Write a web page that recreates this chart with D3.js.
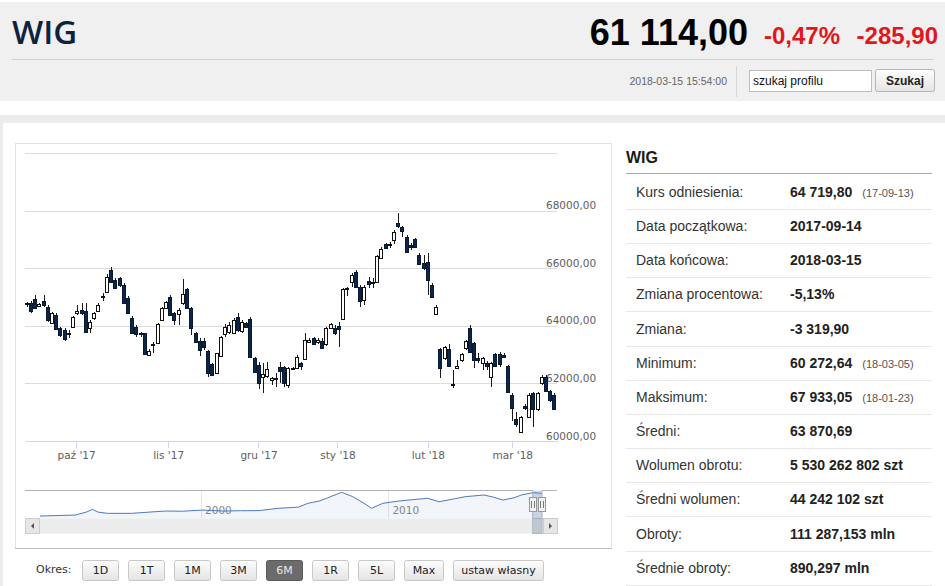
<!DOCTYPE html>
<html lang="pl">
<head>
<meta charset="utf-8">
<title>WIG - notowania</title>
<script src="https://cdn.jsdelivr.net/npm/d3@7"></script>
<style>
    body { margin: 0; background: #fff; }
    svg { display: block; }
    text { font-family: "Liberation Sans", Arial, sans-serif; }
    .hc text { font-family: "DejaVu Sans", Verdana, sans-serif; font-size: 10.5px; fill: #606060; }
</style>
</head>
<body>
<svg id="page" width="945" height="586"></svg>
<script>
/* global d3 : false */

// header
const indexName = "WIG";
const lastValue = "61 114,00";
const changePct = "-0,47%";
const changeAbs = "-285,90";
const quoteTime = "2018-03-15 15:54:00";

// daily candles 2017-09-14 .. 2018-03-15
const opens = [
    64765, 64811, 64927, 64696, 64869, 64672, 64093, 64383, 63919, 63861,
    63722, 63977, 64440, 64556, 64533, 63919, 64267, 64533, 65020, 65194,
    65948, 65600, 65658, 65426, 64962, 64267, 63977, 63768, 63745, 62991,
    63327, 63420, 64209, 64614, 65020, 64440, 64417, 64788, 65275, 64614,
    63768, 63478, 63478, 63130, 62678, 62354, 62956, 63722, 63803, 63768,
    64325, 63838, 64116, 64232, 62875, 62643, 62214, 62261, 62122, 62203,
    62562, 62562, 61948, 62504, 62527, 62701, 62841, 63455, 63571, 63455,
    63478, 63362, 63919, 63942, 64000, 64232, 65275, 65519, 65890, 65368,
    64904, 65565, 65519, 65519, 66377, 66852, 66817, 66991, 67571, 67432,
    67107, 66817, 67014, 66469, 66180, 66214, 65426, 64406, 63188, 62875,
    63188, 61971, 62551, 62817, 63223, 63919, 63420, 62875, 62725, 62725,
    62238, 63014, 63014, 62991, 62609, 61600, 60754, 60325, 61217, 60823,
    61658, 61101, 62029, 62238, 61751, 61600
];
const highs = [
    64846, 64869, 65078, 64811, 65067, 64730, 64498, 64440, 63977, 63919,
    63861, 64348, 64730, 64811, 64811, 64209, 64498, 64788, 65136, 65797,
    66064, 65658, 65716, 65484, 65043, 64348, 64035, 63803, 63768, 63188,
    63455, 64093, 64672, 64881, 65078, 64498, 64614, 65623, 65310, 64672,
    63803, 63571, 63571, 63165, 62725, 63072, 63652, 64069, 64151, 64267,
    64440, 64209, 64151, 64325, 62933, 62759, 62725, 62759, 62238, 62354,
    62759, 62609, 62585, 62585, 62991, 62759, 63745, 63571, 63629, 63571,
    63571, 63977, 64093, 64035, 64151, 65310, 65368, 65832, 65948, 65426,
    65426, 65716, 65658, 66469, 66736, 66898, 66910, 67339, 67933, 67478,
    67165, 66875, 67049, 66527, 66469, 66527, 65484, 64730, 63223, 63304,
    63374, 62470, 62817, 63049, 63513, 64035, 63455, 63049, 62933, 62794,
    62759, 63049, 63096, 63049, 62632, 61658, 61020, 60881, 61275, 61658,
    61716, 61704, 62284, 62296, 61774, 61658
];
const lows = [
    64672, 64464, 64614, 64649, 64672, 64151, 64058, 63861, 63629, 63490,
    63571, 63919, 64383, 64383, 63768, 63745, 64209, 64498, 64881, 65159,
    65507, 65275, 65368, 64788, 64440, 63722, 63629, 63606, 62991, 62956,
    63049, 63397, 64185, 64580, 64348, 64035, 64035, 64730, 64580, 63687,
    63420, 62956, 63165, 62238, 62261, 62319, 62933, 63629, 63722, 63722,
    63803, 63745, 63919, 62875, 62354, 61797, 61658, 62180, 61948, 61890,
    62029, 61890, 61832, 62470, 62493, 62470, 62817, 63397, 63339, 63374,
    63200, 63304, 63884, 63687, 63281, 64209, 65055, 65368, 65310, 64672,
    64730, 65310, 65310, 65484, 66342, 66667, 66701, 66840, 67397, 67107,
    66527, 66643, 66701, 66122, 65948, 65078, 64962, 64383, 62180, 62817,
    62585, 61832, 62516, 62759, 63165, 63072, 62527, 62725, 62470, 62470,
    61867, 62585, 62585, 62875, 61681, 60707, 60499, 60273, 61078, 60788,
    60499, 61055, 61948, 61716, 61368, 61101
];
const closes = [
    64788, 64533, 64638, 64765, 64730, 64209, 64440, 63884, 63687, 63536,
    63745, 64301, 64533, 64440, 63803, 64151, 64440, 64730, 65043, 65716,
    65542, 65310, 65426, 64811, 64464, 63745, 63722, 63733, 63014, 63142,
    63374, 64058, 64638, 64846, 64383, 64209, 64556, 65113, 64614, 63919,
    63455, 63165, 63281, 62354, 62296, 63049, 63629, 63977, 64035, 64209,
    63861, 64151, 63977, 62933, 62412, 62006, 62330, 62493, 62180, 62156,
    62446, 62006, 62527, 62551, 62910, 62609, 63513, 63513, 63374, 63513,
    63246, 63919, 64069, 63745, 63884, 65275, 65310, 65774, 65368, 64869,
    65368, 65449, 65542, 66435, 66678, 66701, 66852, 67281, 67490, 67316,
    66562, 66759, 66759, 66145, 66006, 65600, 64997, 64672, 62527, 63258,
    62609, 61994, 62620, 63014, 63478, 63107, 62817, 62817, 62875, 62609,
    62725, 62609, 62678, 62933, 61716, 61136, 60591, 60846, 61136, 61600,
    61101, 61681, 62238, 61751, 61426, 61114
];

// axis ticks; month ticks are given in candle slots
const monthLabels = ["paź '17", "lis '17", "gru '17", "sty '18", "lut '18", "mar '18"];
const monthTickAt = [11.6, 33.4, 54.8, 73.5, 94.9, 114.9];
const priceTicks = [62000, 64000, 66000, 68000, 70000];
const priceLabels = [60000, 62000, 64000, 66000, 68000];

// navigator: whole history of the index
const navYears = [
    1991.4, 1993.3, 1993.9, 1994.2, 1994.5, 1995.0, 1996.3, 1997.5, 1998.1, 1999.0,
    2000.1, 2001.2, 2002.1, 2003.1, 2004.1, 2005.2, 2005.7, 2006.3, 2006.7, 2007.5,
    2008.1, 2008.7, 2009.1, 2009.7, 2010.4, 2011.1, 2012.1, 2012.7, 2013.4, 2014.1,
    2015.1, 2015.6, 2016.1, 2016.7, 2017.1, 2017.7, 2018.2
];
const navValues = [
    1000, 3800, 12500, 19800, 12000, 8600, 8600, 13000, 15000, 14500,
    17800, 15000, 15900, 16200, 22600, 26000, 36600, 43000, 50700, 67500,
    55200, 36600, 22600, 36600, 42000, 45900, 50700, 41100, 48000, 55200,
    59900, 54000, 45900, 52000, 59900, 66400, 64700
];
const navYearTicks = [2000, 2010];
const navWindow = [2017.70, 2018.20];

// period buttons
const periods = ["1D", "1T", "1M", "3M", "6M", "1R", "5L", "Max", "ustaw własny"];
const activePeriod = "6M";

// statistics table
const statLabels = [
    "Kurs odniesienia:", "Data początkowa:", "Data końcowa:", "Zmiana procentowa:",
    "Zmiana:", "Minimum:", "Maksimum:", "Średni:", "Wolumen obrotu:",
    "Średni wolumen:", "Obroty:", "Średnie obroty:"
];
const statValues = [
    "64 719,80", "2017-09-14", "2018-03-15", "-5,13%", "-3 319,90", "60 272,64",
    "67 933,05", "63 870,69", "5 530 262 802 szt", "44 242 102 szt",
    "111 287,153 mln", "890,297 mln"
];
const statNotes = ["(17-09-13)", "", "", "", "", "(18-03-05)", "(18-01-23)", "", "", "", "", ""];

const svg = d3.select("#page");
const red = "#e2161d";

const defs = svg.append("defs");
const grad = defs.append("linearGradient").attr("id", "btn").attr("x1", 0).attr("y1", 0).attr("x2", 0).attr("y2", 1);
grad.append("stop").attr("offset", "0%").attr("stop-color", "#fdfdfd");
grad.append("stop").attr("offset", "100%").attr("stop-color", "#e4e4e4");

// page frame
svg.append("rect").attr("x", 0).attr("y", 2).attr("width", 945).attr("height", 99).attr("fill", "#f0f0f0");
svg.append("rect").attr("x", 0).attr("y", 115).attr("width", 945).attr("height", 471).attr("fill", "#ececec");
svg.append("rect").attr("x", 3).attr("y", 123).attr("width", 942).attr("height", 463).attr("fill", "#fff");

// header
const head = svg.append("g");
head.append("text")
    .attr("x", 12)
    .attr("y", 44)
    .style("font-family", '"Open Sans", sans-serif')
    .style("font-weight", 600)
    .style("font-size", "33px")
    .attr("fill", "#0d2240")
    .text(indexName);
head.append("text")
    .attr("x", 748)
    .attr("y", 45)
    .attr("text-anchor", "end")
    .style("font-weight", "bold")
    .style("font-size", "36px")
    .attr("fill", "#000")
    .text(lastValue);
head.append("text")
    .attr("x", 764)
    .attr("y", 44)
    .style("font-weight", "bold")
    .style("font-size", "24px")
    .attr("fill", red)
    .text(changePct);
head.append("text")
    .attr("x", 938)
    .attr("y", 44)
    .attr("text-anchor", "end")
    .style("font-weight", "bold")
    .style("font-size", "24px")
    .attr("fill", red)
    .text(changeAbs);
head.append("line").attr("x1", 12).attr("x2", 934).attr("y1", 59.5).attr("y2", 59.5).attr("stroke", "#d0d0d0");
head.append("text")
    .attr("x", 727)
    .attr("y", 84.5)
    .attr("text-anchor", "end")
    .style("font-size", "10.5px")
    .attr("fill", "#666")
    .text(quoteTime);
head.append("line").attr("x1", 736.5).attr("x2", 736.5).attr("y1", 66).attr("y2", 97).attr("stroke", "#d6d6d6");
head.append("rect")
    .attr("x", 749.5)
    .attr("y", 70.5)
    .attr("width", 122)
    .attr("height", 21)
    .attr("fill", "#fff")
    .attr("stroke", "#bdbdbd");
head.append("text")
    .attr("x", 753)
    .attr("y", 85)
    .style("font-size", "12px")
    .attr("fill", "#111")
    .text("szukaj profilu");
head.append("rect")
    .attr("x", 875.5)
    .attr("y", 69.5)
    .attr("width", 59)
    .attr("height", 22)
    .attr("rx", 2)
    .attr("fill", "url(#btn)")
    .attr("stroke", "#b5b5b5");
head.append("text")
    .attr("x", 905)
    .attr("y", 85)
    .attr("text-anchor", "middle")
    .style("font-weight", "bold")
    .style("font-size", "12px")
    .attr("fill", "#222")
    .text("Szukaj");

// chart box
svg.append("rect")
    .attr("x", 15.5)
    .attr("y", 143.5)
    .attr("width", 596)
    .attr("height", 405)
    .attr("fill", "#fff")
    .attr("stroke", "#e2e2e2");
svg.append("line").attr("x1", 15).attr("x2", 612).attr("y1", 548.5).attr("y2", 548.5).attr("stroke", "#bdbdbd");

// main candlestick chart
const plotLeft = 25, plotRight = 557, plotTop = 153.3, plotBottom = 441;
const n = closes.length;
const x = d3.scaleLinear().domain([-0.5, n - 0.5]).range([plotLeft, plotRight]);
const y = d3.scaleLinear().domain([60000, 70000]).range([plotBottom, plotTop]);
const priceFmt = v => v.toFixed(2).replace(".", ",");

const chart = svg.append("g").attr("class", "hc");

const grid = chart.append("g")
    .attr("transform", `translate(${plotRight},0)`)
    .call(d3.axisLeft(y).tickValues(priceTicks).tickSize(plotRight - plotLeft).tickFormat(""));
grid.select(".domain").remove();
grid.selectAll("line").attr("stroke", "#dcdcdc").attr("shape-rendering", "crispEdges");

const yLab = chart.append("g")
    .attr("transform", "translate(546,0)")
    .call(d3.axisRight(y).tickValues(priceLabels).tickSize(0).tickPadding(0).tickFormat(priceFmt));
yLab.select(".domain").remove();
yLab.selectAll("text").attr("dy", "-0.19em");

const xAx = chart.append("g")
    .attr("transform", `translate(0,${plotBottom})`)
    .call(d3.axisBottom(x).tickValues(monthTickAt).tickFormat((d, i) => monthLabels[i])
        .tickSize(7).tickSizeOuter(0).tickPadding(4));
xAx.select(".domain").attr("stroke", "#ccd6eb").attr("shape-rendering", "crispEdges");
xAx.selectAll("line").attr("stroke", "#ccd6eb").attr("shape-rendering", "crispEdges");

const bars = closes.map((c, i) => ({ i, o: opens[i], h: highs[i], l: lows[i], c }));
const col = d => Math.floor(x(d.i));
const candle = chart.append("g").selectAll("g").data(bars).join("g");
candle.append("line")
    .attr("x1", d => col(d) + 0.5)
    .attr("x2", d => col(d) + 0.5)
    .attr("y1", d => Math.round(y(d.h)))
    .attr("y2", d => Math.round(y(d.l)))
    .attr("stroke", "#1a1a1a");
candle.append("rect")
    .attr("x", d => col(d) - 1.5)
    .attr("width", 3)
    .attr("y", d => Math.round(y(Math.max(d.o, d.c))) + 0.5)
    .attr("height", d => Math.max(1, Math.round(y(Math.min(d.o, d.c))) - Math.round(y(Math.max(d.o, d.c)))))
    .attr("fill", d => (d.c < d.o ? "#0c2646" : "#fff"))
    .attr("stroke", d => (d.c < d.o ? "#081a33" : "#111"));

// navigator
const navTop = 490.5, navBottom = 518.5, sbBottom = 533.5;
const navX = d3.scaleLinear().domain([1990.6, 2019]).range([plotLeft, plotRight]);
const navY = d3.scaleLinear().domain([0, 70000]).range([516.4, 491.4]);
const navPts = navYears.map((yr, i) => ({ yr, v: navValues[i] }));
const nav = svg.append("g").attr("class", "hc");

nav.selectAll("line.grid")
    .data(navYearTicks)
    .join("line")
    .attr("class", "grid")
    .attr("x1", d => Math.round(navX(d)) + 0.5)
    .attr("x2", d => Math.round(navX(d)) + 0.5)
    .attr("y1", navTop)
    .attr("y2", navBottom)
    .attr("stroke", "#e6e6e6");
nav.selectAll("text.yr")
    .data(navYearTicks)
    .join("text")
    .attr("class", "yr")
    .attr("x", d => navX(d) + 4)
    .attr("y", 514)
    .style("fill", "#888")
    .text(d => d);
nav.append("path")
    .datum(navPts)
    .attr("d", d3.area().x(d => navX(d.yr)).y0(navBottom).y1(d => navY(d.v)))
    .attr("fill", "rgba(69,114,167,0.07)");
nav.append("path")
    .datum(navPts)
    .attr("d", d3.line().x(d => navX(d.yr)).y(d => navY(d.v)))
    .attr("fill", "none")
    .attr("stroke", "#5079bd")
    .attr("stroke-width", 1);

// scrollbar
const winL = navX(navWindow[0]), winR = navX(navWindow[1]);
nav.append("rect")
    .attr("x", plotLeft)
    .attr("y", navBottom)
    .attr("width", plotRight - plotLeft)
    .attr("height", sbBottom - navBottom)
    .attr("fill", "#ececec");
nav.append("rect")
    .attr("x", winL)
    .attr("y", navBottom)
    .attr("width", winR - winL)
    .attr("height", sbBottom - navBottom)
    .attr("fill", "#bfc8d1")
    .attr("stroke", "#b0b8c2");
[plotLeft, plotRight - 14].forEach((bx, k) => {
    nav.append("rect")
        .attr("x", bx + 0.5)
        .attr("y", navBottom)
        .attr("width", 14)
        .attr("height", sbBottom - navBottom)
        .attr("fill", "#e6e6e6")
        .attr("stroke", "#cccccc");
    const cx = bx + 7.5, cy = (navBottom + sbBottom) / 2;
    nav.append("path")
        .attr("d", k === 0
            ? `M${cx + 1.5},${cy - 3}L${cx - 1.5},${cy}L${cx + 1.5},${cy + 3}Z`
            : `M${cx - 1.5},${cy - 3}L${cx + 1.5},${cy}L${cx - 1.5},${cy + 3}Z`)
        .attr("fill", "#555");
});

// selected window and handles
nav.append("rect")
    .attr("x", winL)
    .attr("y", navTop)
    .attr("width", winR - winL)
    .attr("height", navBottom - navTop)
    .attr("fill", "rgba(102,133,194,0.3)");
nav.append("path")
    .attr("d", `M${plotLeft},${navTop}H${winL}V${navBottom}M${winR},${navBottom}V${navTop}H${plotRight}`)
    .attr("fill", "none")
    .attr("stroke", "#b2b1b6");
[winL, winR].forEach(hx => {
    const g = nav.append("g").attr("transform", `translate(${Math.round(hx)},497)`);
    g.append("rect").attr("x", -3.5).attr("y", 0.5).attr("width", 7).attr("height", 14)
        .attr("fill", "#f2f2f2").attr("stroke", "#999");
    g.append("path").attr("d", "M-1.5,4V11M1.5,4V11").attr("stroke", "#777");
});

// period buttons
const btns = svg.append("g").attr("class", "hc");
btns.append("text").attr("x", 36).attr("y", 573).style("font-size", "11px").style("fill", "#333").text("Okres:");
let bx = 82;
periods.forEach(p => {
    const on = p === activePeriod;
    const g = btns.append("g").attr("transform", `translate(${bx},560)`);
    const t = g.append("text")
        .attr("y", 13.5)
        .attr("text-anchor", "middle")
        .style("font-size", "11px")
        .style("fill", on ? "#e8e8e8" : "#222")
        .text(p);
    const w = Math.round(Math.max(36, t.node().getComputedTextLength() + 16));
    g.insert("rect", "text")
        .attr("x", 0.5)
        .attr("y", 0.5)
        .attr("width", w)
        .attr("height", 20)
        .attr("rx", 2)
        .attr("fill", on ? "#6b6b6b" : "url(#btn)")
        .attr("stroke", on ? "#5a5a5a" : "#c8c8c8");
    t.attr("x", w / 2 + 0.5);
    bx += w + 10;
});

// statistics table
const stats = svg.append("g");
stats.append("text")
    .attr("x", 626)
    .attr("y", 163)
    .style("font-weight", "bold")
    .style("font-size", "16px")
    .attr("fill", "#1a1a1a")
    .text(indexName);
stats.append("line").attr("x1", 626).attr("x2", 932).attr("y1", 173.5).attr("y2", 173.5).attr("stroke", "#a8a8a8");
const rowH = 34.15, row0 = 192;
const rows = stats.selectAll("g.row")
    .data(statLabels)
    .join("g")
    .attr("class", "row")
    .attr("transform", (d, i) => `translate(0,${Math.round(row0 + i * rowH)})`);
rows.append("text").attr("x", 636).attr("y", 5).style("font-size", "14px").attr("fill", "#333").text(d => d);
const vals = rows.append("text")
    .attr("x", 790)
    .attr("y", 5)
    .style("font-size", "14px")
    .style("font-weight", "bold")
    .attr("fill", "#222");
vals.append("tspan").text((d, i) => statValues[i]);
vals.append("tspan")
    .attr("dx", 10)
    .style("font-size", "11px")
    .style("font-weight", "normal")
    .attr("fill", "#555")
    .text((d, i) => statNotes[i]);
rows.append("line").attr("x1", 626).attr("x2", 932).attr("y1", 17.5).attr("y2", 17.5).attr("stroke", "#e8e8e8");
</script>
</body>
</html>
